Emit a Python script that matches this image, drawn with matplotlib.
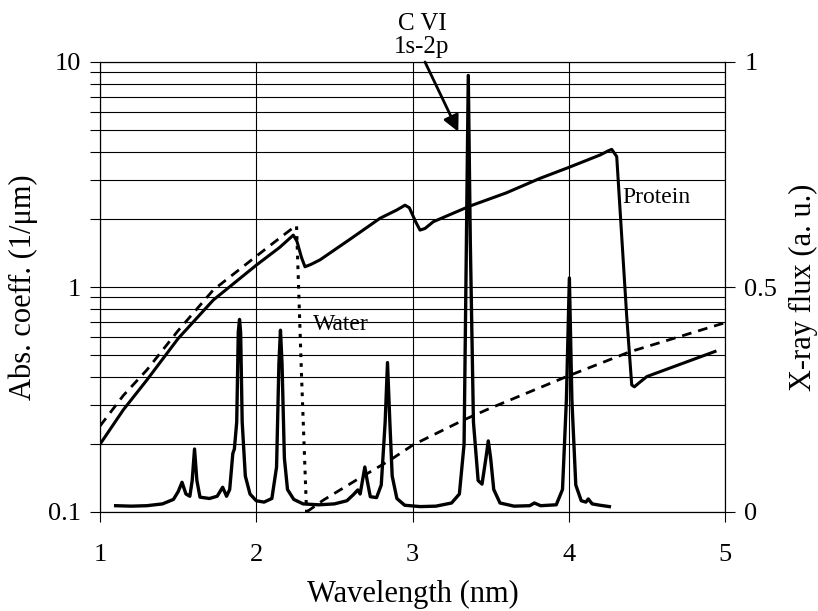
import matplotlib
matplotlib.use("Agg")
import matplotlib.pyplot as plt
from matplotlib.ticker import FixedLocator, NullFormatter, LogLocator

plt.rcParams['font.family'] = ['Liberation Serif', 'DejaVu Serif']

# absorption coefficients (left axis, 1/um)
protein_x = [1.0, 1.15, 1.30, 1.50, 1.725, 2.0, 2.15, 2.237, 2.26, 2.29, 2.312, 2.35,
             2.408, 2.6, 2.792, 2.90, 2.952, 2.98, 3.02, 3.048, 3.08, 3.133, 3.368,
             3.6, 3.816, 4.0, 4.2, 4.25, 4.275, 4.307, 4.371, 4.403, 4.42, 4.45,
             4.50, 4.7, 4.936]
protein_y = [0.2, 0.285, 0.386, 0.59, 0.875, 1.25, 1.5, 1.70, 1.6, 1.35, 1.23, 1.26,
             1.32, 1.63, 2.02, 2.2, 2.31, 2.25, 1.95, 1.79, 1.82, 1.95, 2.29,
             2.62, 3.04, 3.4, 3.86, 4.02, 4.09, 3.80, 0.74, 0.367, 0.36, 0.375,
             0.40, 0.45, 0.517]

water_pre_x = [1.0, 1.15, 1.30, 1.50, 1.725, 2.0, 2.15, 2.248, 2.258]
water_pre_y = [0.241, 0.33, 0.428, 0.64, 0.97, 1.37, 1.65, 1.86, 1.86]
water_edge_x = [2.258, 2.29, 2.322]
water_edge_y = [1.86, 0.40, 0.1]
water_post_x = [2.322, 2.43, 2.643, 2.856, 3.005, 3.325, 3.496, 3.987, 4.39, 4.989]
water_post_y = [0.1, 0.113, 0.139, 0.170, 0.199, 0.256, 0.289, 0.40, 0.515, 0.69]

# x-ray emission spectrum (right axis, a.u.)
flux_x = [1.10, 1.20, 1.30, 1.40, 1.47, 1.50, 1.525, 1.55, 1.575, 1.59, 1.605, 1.62,
          1.64, 1.70, 1.75, 1.785, 1.81, 1.83, 1.85, 1.86, 1.875, 1.885, 1.893,
          1.90, 1.91, 1.93, 1.96, 2.00, 2.05, 2.10, 2.13, 2.145, 2.155, 2.165,
          2.18, 2.20, 2.24, 2.30, 2.40, 2.50, 2.58, 2.62, 2.65, 2.665, 2.68,
          2.695, 2.71, 2.73, 2.77, 2.80, 2.825, 2.84, 2.855, 2.87, 2.90, 2.95,
          3.05, 3.15, 3.25, 3.30, 3.33, 3.345, 3.357, 3.37, 3.39, 3.42, 3.445,
          3.47, 3.485, 3.50, 3.52, 3.56, 3.65, 3.75, 3.78, 3.82, 3.92, 3.96,
          3.985, 4.004, 4.02, 4.045, 4.08, 4.11, 4.125, 4.15, 4.20, 4.26]
flux_y = [0.014, 0.013, 0.014, 0.018, 0.028, 0.045, 0.066, 0.040, 0.035, 0.07, 0.14, 0.07,
          0.033, 0.030, 0.035, 0.055, 0.035, 0.05, 0.13, 0.14, 0.2, 0.40, 0.428,
          0.40, 0.2, 0.08, 0.040, 0.025, 0.022, 0.03, 0.10, 0.33, 0.404, 0.33,
          0.12, 0.05, 0.028, 0.018, 0.016, 0.018, 0.025, 0.038, 0.049, 0.04, 0.07,
          0.10, 0.07, 0.034, 0.032, 0.06, 0.2, 0.332, 0.2, 0.08, 0.03, 0.015,
          0.012, 0.013, 0.02, 0.04, 0.15, 0.6, 0.97, 0.6, 0.2, 0.07, 0.062,
          0.12, 0.158, 0.12, 0.05, 0.02, 0.013, 0.014, 0.02, 0.014, 0.016, 0.05,
          0.25, 0.52, 0.25, 0.06, 0.025, 0.022, 0.029, 0.018, 0.015, 0.012]

x_ticks = [1, 2, 3, 4, 5]
left_ticks = [0.1, 1, 10]
left_labels = ['0.1', '1', '10']
right_ticks = [0, 0.5, 1]
right_labels = ['0', '0.5', '1']

fig = plt.figure(figsize=(8.18, 6.11), dpi=100)
ax = fig.add_axes([100 / 818, 99 / 611, 625 / 818, 450 / 611])

ax.set_yscale('log')
ax.set_xlim(1, 5)
ax.set_ylim(0.1, 10)

# grid at integer x and at every log tick
ax.yaxis.set_major_locator(FixedLocator(left_ticks))
ax.yaxis.set_minor_locator(LogLocator(base=10, subs=range(2, 10)))
ax.yaxis.set_minor_formatter(NullFormatter())
ax.set_yticklabels(left_labels)
ax.set_xticks(x_ticks)
ax.grid(True, which='both', axis='y', color='black', linewidth=0.8)
ax.grid(True, which='major', axis='x', color='black', linewidth=0.8)

ax.plot(protein_x, protein_y, color='black', linewidth=2.2, solid_joinstyle='round')
ax.plot(water_pre_x, water_pre_y, color='black', linewidth=2.0, linestyle=(0, (3.5, 2.5)))
ax.plot(water_edge_x, water_edge_y, color='black', linewidth=2.2, linestyle=(0, (1.2, 2)))
ax.plot(water_post_x, water_post_y, color='black', linewidth=2.0, linestyle=(0, (3.5, 2.5)))

ax.tick_params(axis='both', which='both', direction='out', length=7, width=0.8,
               labelsize=19, colors='black')
ax.tick_params(axis='y', which='both', pad=7)
ax.tick_params(axis='x', pad=16)

ax.set_xlabel('Wavelength (nm)', fontsize=22, labelpad=10)
ax.set_ylabel('Abs. coeff. (1/μm)', fontsize=22)
ax.yaxis.set_label_coords(-0.099, 0.5)

ax.text(2.36, 0.68, 'Water', fontsize=17, ha='left', va='center')
ax.text(4.34, 2.51, 'Protein', fontsize=17, ha='left', va='center')

ax.text(3.06, 1.009, 'C VI\n1s-2p', transform=ax.get_xaxis_transform(), fontsize=18,
        ha='center', va='bottom', linespacing=1.05)
ax.annotate('', xy=(3.293, 4.9), xytext=(3.08, 10), annotation_clip=False,
            arrowprops=dict(arrowstyle='-|>', color='black', lw=2, mutation_scale=24,
                            shrinkA=0, shrinkB=0))

for s in ax.spines.values():
    s.set_linewidth(0.8)

ax2 = ax.twinx()
ax2.set_ylim(0, 1)
ax2.set_yticks(right_ticks)
ax2.set_yticklabels(right_labels)
ax2.plot(flux_x, flux_y, color='black', linewidth=2.4, solid_joinstyle='round')
ax2.tick_params(axis='y', direction='out', length=7, width=0.8, labelsize=19, pad=7)
ax2.set_ylabel('X-ray flux (a. u.)', fontsize=22)
ax2.yaxis.set_label_coords(1.103, 0.5)
for s in ax2.spines.values():
    s.set_linewidth(0.8)

fig.savefig('out.png', dpi=100)
